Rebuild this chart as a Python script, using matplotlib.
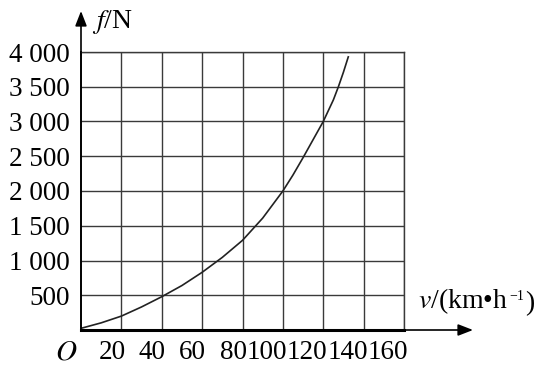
import matplotlib
matplotlib.use("Agg")
import matplotlib.pyplot as plt
import matplotlib.transforms as mtransforms

# values
speed = [0, 10, 20, 30, 40, 50, 60, 70, 80, 90, 100, 105, 110, 115, 120, 125, 127.5, 130, 132.4]
force = [24, 103, 200, 332, 479, 640, 830, 1045, 1290, 1610, 2000, 2230, 2480, 2740, 3000,
         3310, 3500, 3710, 3930]

x_ticks = [20, 40, 60, 80, 100, 120, 140, 160]
x_labels = ["20", "40", "60", "80", "100", "120", "140", "160"]
y_ticks = [500, 1000, 1500, 2000, 2500, 3000, 3500, 4000]
y_labels = ["500", "1 000", "1 500", "2 000", "2 500", "3 000", "3 500", "4 000"]

plt.rcParams["font.family"] = ["Liberation Serif", "DejaVu Serif"]
plt.rcParams["mathtext.fontset"] = "stix"

fig = plt.figure(figsize=(5.44, 3.66), dpi=100)
ax = fig.add_axes([81 / 544, 36 / 366, 323 / 544, 278 / 366])

ax.set_xlim(0, 160)
ax.set_ylim(0, 4000)
ax.set_xticks(x_ticks)
ax.set_yticks(y_ticks)
ax.grid(True, color="#3a3a3a", lw=1.0)
ax.tick_params(length=0)
ax.set_xticklabels([])
ax.set_yticklabels(y_labels, fontsize=19.5)
ax.tick_params(axis="y", pad=8)

for s in ["top", "right"]:
    ax.spines[s].set_color("#3a3a3a")
    ax.spines[s].set_linewidth(1.0)
ax.spines["bottom"].set_linewidth(2.2)
ax.spines["left"].set_linewidth(1.4)

ax.plot(speed, force, color="#222222", lw=1.2)

# x tick labels sit a bit left of their grid lines, right aligned
xlab_tr = mtransforms.blended_transform_factory(ax.transData, ax.transAxes)
xlab_tr = xlab_tr + mtransforms.ScaledTranslation(4 / 100, -10 / 100, fig.dpi_scale_trans)
for xv, lab in zip(x_ticks, x_labels):
    ax.text(xv, 0, lab, transform=xlab_tr, ha="right", va="top", fontsize=19.5)

ax.text(-15 / 323, -10 / 278, "$O$", transform=ax.transAxes, ha="center",
        va="top", fontsize=21)

# axis arrows
ax.annotate("", xy=(1 + 69 / 323, 0), xytext=(0.99, 0), xycoords="axes fraction",
            arrowprops=dict(arrowstyle="-|>,head_length=0.9,head_width=0.35",
                            color="black", lw=1.2, shrinkA=0, shrinkB=0),
            annotation_clip=False)
ax.annotate("", xy=(0, 1 + 41 / 278), xytext=(0, 0.99), xycoords="axes fraction",
            arrowprops=dict(arrowstyle="-|>,head_length=0.9,head_width=0.35",
                            color="black", lw=1.2, shrinkA=0, shrinkB=0),
            annotation_clip=False)

ax.text(11 / 323, 1 + 16 / 278, "$f$/N", transform=ax.transAxes, ha="left",
        va="bottom", fontsize=20)

# x axis unit label, with a small raised -1
t1 = ax.text(1 + 14 / 323, 14 / 278, "$v$/(km\u2022h", transform=ax.transAxes,
             ha="left", va="bottom", fontsize=20)
t2 = ax.annotate("\u22121", xy=(1, 1), xycoords=t1, xytext=(1, -3),
                 textcoords="offset points", ha="left", va="top", fontsize=10)
ax.annotate(")", xy=(1, 0), xycoords=(t2, t1), xytext=(1, 0),
            textcoords="offset points", ha="left", va="bottom", fontsize=20)

fig.savefig("out.png", dpi=100)
